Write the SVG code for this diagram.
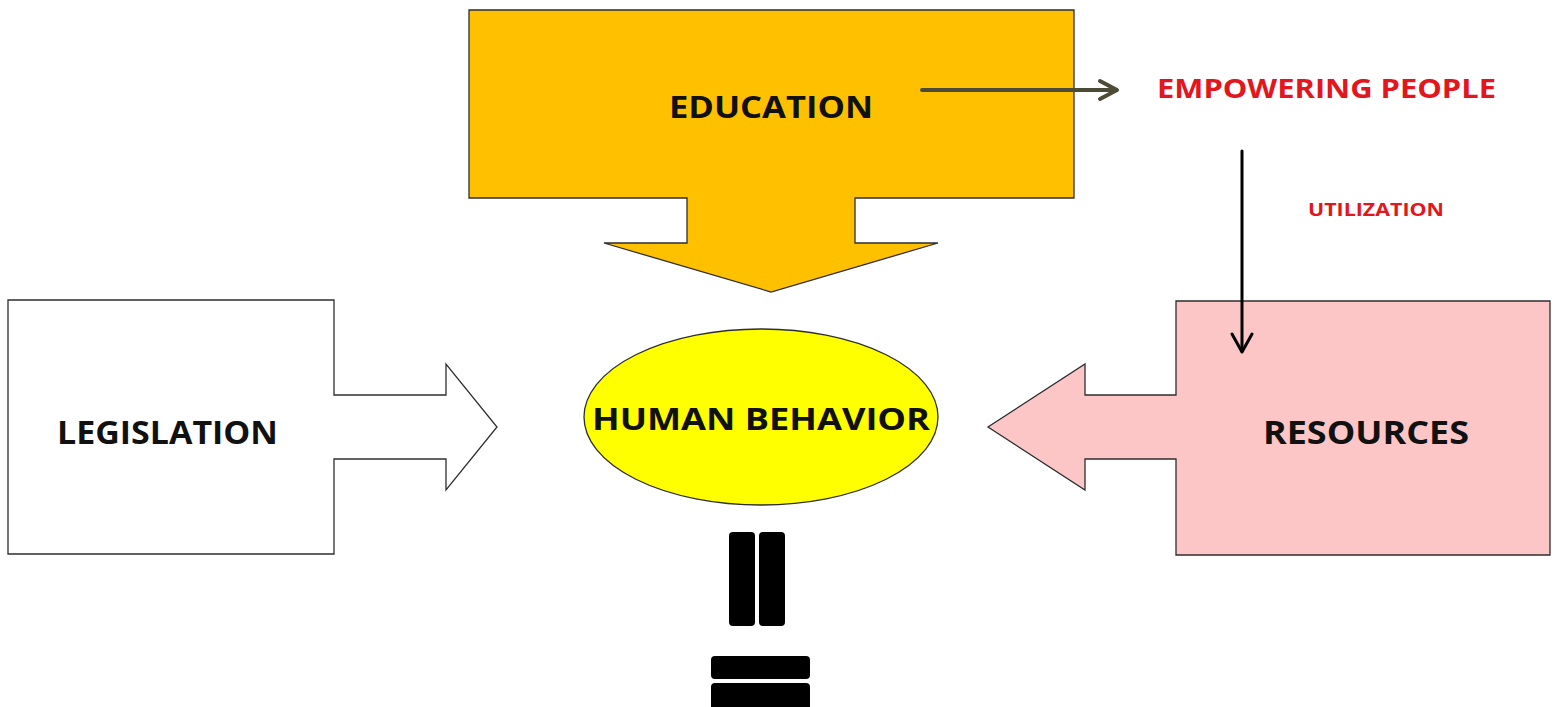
<svg xmlns="http://www.w3.org/2000/svg" width="1558" height="707" viewBox="0 0 1558 707">
  <style>
    .label { font-family: "Open Sans", "Liberation Sans", sans-serif; font-weight: bold; fill: #111; }
    .red { font-family: "Open Sans", "Liberation Sans", sans-serif; font-weight: bold; fill: #e3151d; }
    .shape { stroke: #2e2e2e; stroke-width: 1.3; }
  </style>
  <rect width="1558" height="707" fill="#ffffff"/>

  <!-- Education: box with a block arrow pointing down -->
  <g id="education">
    <path class="shape" fill="#ffc000" d="M469 10 H1074 V198 H855 V243 H938 L771 292 L604 243 H687 V198 H469 Z"/>
    <text class="label" x="669" y="118" font-size="30" textLength="204" lengthAdjust="spacingAndGlyphs">EDUCATION</text>
  </g>

  <!-- Legislation: box with a block arrow pointing right -->
  <g id="legislation">
    <path class="shape" fill="#ffffff" d="M8 300 H334 V395 H446 V364 L497 427 L446 490 V459 H334 V554 H8 Z"/>
    <text class="label" x="57" y="444" font-size="33" textLength="221" lengthAdjust="spacingAndGlyphs">LEGISLATION</text>
  </g>

  <!-- Resources: box with a block arrow pointing left -->
  <g id="resources">
    <path class="shape" fill="#fcc6c6" d="M1550 301 H1176 V395 H1085 V364 L988 427 L1085 490 V459 H1176 V555 H1550 Z"/>
    <text class="label" x="1263" y="444" font-size="33" textLength="206" lengthAdjust="spacingAndGlyphs">RESOURCES</text>
  </g>

  <!-- Human behavior ellipse -->
  <g id="human-behavior">
    <ellipse class="shape" cx="761" cy="417" rx="177" ry="88" fill="#ffff00"/>
    <text class="label" x="592" y="430" font-size="30" textLength="338" lengthAdjust="spacingAndGlyphs">HUMAN BEHAVIOR</text>
  </g>

  <!-- Empowering people and utilization labels -->
  <g id="empowering-people">
    <text class="red" x="1157" y="98" font-size="26" textLength="339" lengthAdjust="spacingAndGlyphs">EMPOWERING PEOPLE</text>
  </g>
  <g id="utilization">
    <text class="red" x="1308" y="216" font-size="18" textLength="136" lengthAdjust="spacingAndGlyphs">UTILIZATION</text>
  </g>

  <!-- Equals sign built from rounded bars -->
  <g id="equals" fill="#000000">
    <rect x="729" y="532" width="26" height="94" rx="4"/>
    <rect x="759" y="532" width="26" height="94" rx="4"/>
    <rect x="711" y="656" width="99" height="23" rx="4"/>
    <rect x="711" y="683" width="99" height="30" rx="4"/>
  </g>

  <!-- Connectors -->
  <g id="connectors" fill="none" stroke-linecap="round" stroke-linejoin="round">
    <line x1="922" y1="90" x2="1116" y2="90" stroke="#4d4b35" stroke-width="4"/>
    <polyline points="1100,81 1117,90 1100,99" stroke="#4d4b35" stroke-width="4"/>
    <line x1="1242" y1="151" x2="1242" y2="351" stroke="#000000" stroke-width="3"/>
    <polyline points="1232,334 1242,352 1252,334" stroke="#000000" stroke-width="3"/>
  </g>
</svg>
